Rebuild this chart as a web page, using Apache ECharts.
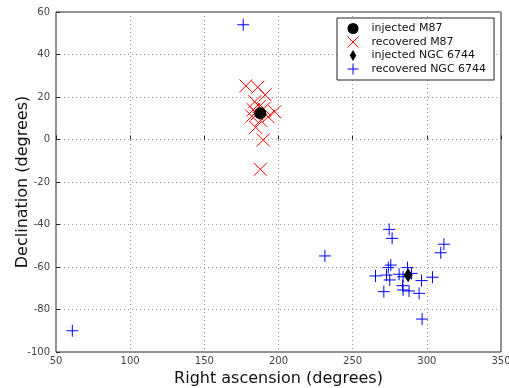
<!DOCTYPE html>
<html><head><meta charset="utf-8">
<script src="https://cdn.jsdelivr.net/npm/echarts@6/dist/echarts.min.js"></script>
<style>html,body{margin:0;padding:0;background:#fff}#c{width:509px;height:388px}</style>
</head><body><div id="c"></div>
<script>
const injectedM87 = [[187.7, 12.4]];
const recoveredM87 = [[178, 25.2],[186, 24.6],[191, 21],[184, 17.8],[187, 15.5],[183, 14],[190, 14.5],[197.5, 13.1],[182, 11],[185.5, 12],[193, 10.7],[188, 9],[184.6, 5.7],[189.7, -0.2],[187.8, -14]];
const injectedNGC6744 = [[287.4, -63.86]];
const recoveredNGC6744 = [[176.2, 54],[61, -90],[231.3, -54.8],[274.6, -42.3],[276.6, -46.5],[311.5, -49.3],[309.4, -53.3],[275.7, -59.1],[274, -60.3],[287, -60.3],[265.4, -64.2],[272.8, -63.8],[281.3, -63.4],[284, -64.6],[289.7, -63],[303.8, -64.8],[296.4, -66.4],[275, -66.1],[283.6, -68.8],[271, -71.6],[284, -70.8],[288, -71.3],[294.8, -72.4],[296.8, -84.5]];
const xTicks = {min: 50, max: 350, step: 50};
const yTicks = {min: -100, max: 60, step: 20};

const chart = echarts.init(document.getElementById('c'), null, {renderer: 'canvas'});
const font = 'DejaVu Sans';
const xPath = 'path://M0,0L10,10M10,0L0,10';
const plusPath = 'path://M5,0L5,10M0,5L10,5';
chart.setOption({
  animation: false,
  textStyle: {fontFamily: font},
  grid: {left: 56, right: 8, top: 12, bottom: 36, show: true, borderColor: '#222', borderWidth: 1, containLabel: false, outerBoundsMode: 'none'},
  xAxis: {
    type: 'value', min: xTicks.min, max: xTicks.max, interval: xTicks.step,
    name: 'Right ascension (degrees)', nameLocation: 'middle', nameGap: 16,
    nameTextStyle: {fontSize: 16, color: '#111', fontFamily: font},
    axisLine: {show: false}, axisTick: {show: true, inside: true, length: 4, lineStyle: {color: '#222'}},
    axisLabel: {fontSize: 10, color: '#444', margin: 4, fontFamily: font},
    splitLine: {show: true, lineStyle: {type: [1, 3], color: '#999', width: 1}}
  },
  yAxis: {
    type: 'value', min: yTicks.min, max: yTicks.max, interval: yTicks.step,
    name: 'Declination (degrees)', nameLocation: 'middle', nameGap: 25, nameMoveOverlap: false,
    nameTextStyle: {fontSize: 16, color: '#111', fontFamily: font},
    axisLine: {show: false}, axisTick: {show: true, inside: true, length: 4, lineStyle: {color: '#222'}},
    axisLabel: {fontSize: 10, color: '#444', margin: 6, fontFamily: font},
    splitLine: {show: true, lineStyle: {type: [1, 3], color: '#999', width: 1}}
  },
  legend: {
    orient: 'vertical', left: 337, top: 18, width: 156,
    padding: [5, 8, 5, 10], itemGap: 2, itemWidth: 27, itemHeight: 11,
    borderColor: '#222', borderWidth: 1, backgroundColor: '#fff',
    textStyle: {fontSize: 11, color: '#111', fontFamily: font},
    data: [
      {name: 'injected M87', icon: 'circle', itemStyle: {color: '#000', opacity: 1}},
      {name: 'recovered M87', icon: xPath, itemStyle: {color: 'transparent', borderColor: '#ff0000', borderWidth: 1, opacity: 1}},
      {name: 'injected NGC 6744', icon: 'path://M3,0L6,5L3,10L0,5Z', itemStyle: {color: '#000', opacity: 1}},
      {name: 'recovered NGC 6744', icon: plusPath, itemStyle: {color: 'transparent', borderColor: '#0000ff', borderWidth: 1, opacity: 1}}
    ]
  },
  series: [
    {name: 'recovered M87', type: 'scatter', data: recoveredM87, symbol: xPath, symbolSize: 13,
     itemStyle: {color: 'transparent', borderColor: '#ff0000', borderWidth: 1, opacity: 1}, z: 2},
    {name: 'recovered NGC 6744', type: 'scatter', data: recoveredNGC6744, symbol: plusPath, symbolSize: 12,
     itemStyle: {color: 'transparent', borderColor: '#0000ff', borderWidth: 1, opacity: 1}, z: 2},
    {name: 'injected M87', type: 'scatter', data: injectedM87, symbol: 'circle', symbolSize: 12,
     itemStyle: {color: '#000', opacity: 1}, z: 3},
    {name: 'injected NGC 6744', type: 'scatter', data: injectedNGC6744, symbol: 'diamond', symbolSize: [9, 14],
     itemStyle: {color: '#000', opacity: 1}, z: 3}
  ]
});
</script></body></html>
